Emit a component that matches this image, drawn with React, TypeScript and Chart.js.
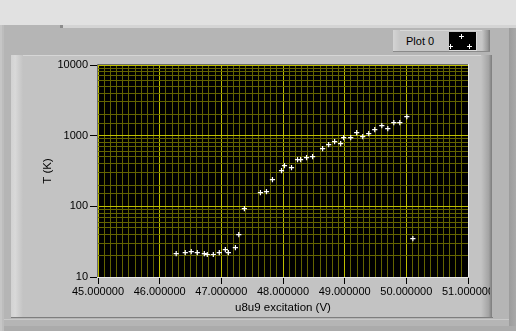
import React, { useEffect, useRef } from "react";
import { Chart, registerables } from "chart.js";

Chart.register(...registerables);

// ---- data ----
const excitationV: number[] = [
  46.268, 46.415, 46.512, 46.61, 46.724, 46.772, 46.87, 46.967, 47.065, 47.114,
  47.228, 47.283, 47.374, 47.634, 47.732, 47.829, 47.976, 48.024, 48.138, 48.236,
  48.285, 48.382, 48.48, 48.642, 48.74, 48.837, 48.935, 48.984, 49.098, 49.195,
  49.293, 49.39, 49.488, 49.602, 49.699, 49.797, 49.894, 50.008, 50.106,
];
const temperatureK: number[] = [
  21.4, 22.1, 22.9, 22.1, 21.4, 20.8, 20.8, 22.1, 24.4, 22.1,
  26.1, 39.8, 92.9, 156, 162, 239, 321, 377, 353, 459,
  459, 489, 506, 656, 748, 824, 772, 939, 939, 1105,
  970, 1070, 1219, 1388, 1259, 1531, 1531, 1862, 35.0,
];
const xMin = 45;
const xMax = 51;
const xMinorStep = 0.1;
const yMin = 10;
const yMax = 10000;
const xTitle = "u8u9 excitation (V)";
const yTitle = "T (K)";
const legendLabel = "Plot 0";

const MINOR = "rgb(100,100,0)";
const MAJOR = "rgb(190,190,0)";
const FONT = "'Liberation Sans', Arial, sans-serif";

const isMajorX = (v: number) => Math.abs(v - Math.round(v)) < 1e-6;
const isMajorY = (v: number) => {
  const l = Math.log10(v);
  return Math.abs(l - Math.round(l)) < 1e-6;
};

const plotFrame = {
  id: "plotFrame",
  beforeDraw(chart: any) {
    const { ctx, chartArea: a } = chart;
    ctx.save();
    ctx.fillStyle = "#000";
    ctx.fillRect(a.left, a.top, a.right - a.left, a.bottom - a.top);
    ctx.restore();
  },
  afterDraw(chart: any) {
    const { ctx, chartArea: a } = chart;
    const l = Math.round(a.left), r = Math.round(a.right), t = Math.round(a.top), b = Math.round(a.bottom);
    ctx.save();
    ctx.lineWidth = 1;
    ctx.strokeStyle = "#6a6a6a";
    ctx.beginPath();
    ctx.moveTo(l - 0.5, b);
    ctx.lineTo(l - 0.5, t - 0.5);
    ctx.lineTo(r, t - 0.5);
    ctx.stroke();
    ctx.strokeStyle = "#e8e8e8";
    ctx.beginPath();
    ctx.moveTo(r + 0.5, t - 1);
    ctx.lineTo(r + 0.5, b + 0.5);
    ctx.lineTo(l - 1, b + 0.5);
    ctx.stroke();
    ctx.restore();
  },
};

const abs = (l: number, t: number, w: number, h: number, bg: string, extra: any = {}) => ({
  position: "absolute" as const,
  left: l,
  top: t,
  width: w,
  height: h,
  background: bg,
  ...extra,
});

function Plus({ cx, cy }: { cx: number; cy: number }) {
  return (
    <>
      <div style={abs(cx, cy - 2, 1, 5, "#fff")} />
      <div style={abs(cx - 2, cy, 5, 1, "#fff")} />
    </>
  );
}

export default function App() {
  const ref = useRef<HTMLCanvasElement>(null);

  useEffect(() => {
    const canvas = ref.current!;
    const chart = new Chart(canvas, {
      type: "scatter",
      data: {
        datasets: [
          {
            label: legendLabel,
            data: excitationV.map((x, i) => ({ x, y: temperatureK[i] })),
            pointStyle: "cross",
            pointRadius: 2.6,
            pointHoverRadius: 2.6,
            borderColor: "#fff",
            backgroundColor: "#fff",
            borderWidth: 1.2,
            showLine: false,
          },
        ],
      },
      options: {
        animation: false,
        responsive: false,
        devicePixelRatio: 1,
        events: [],
        layout: { padding: { top: 65, right: 22, bottom: 16, left: 41 } },
        plugins: { legend: { display: false }, tooltip: { enabled: false } },
        scales: {
          x: {
            type: "linear",
            min: xMin,
            max: xMax,
            ticks: {
              stepSize: xMinorStep,
              autoSkip: false,
              maxRotation: 0,
              minRotation: 0,
              padding: 1,
              color: "#000",
              font: { family: FONT, size: 11 },
              callback: (v: any) => (isMajorX(Number(v)) ? Number(v).toFixed(6) : ""),
            },
            grid: {
              color: (c: any) => (c.tick && isMajorX(c.tick.value) ? MAJOR : MINOR),
              tickColor: (c: any) => (c.tick && isMajorX(c.tick.value) ? "#000" : "rgba(0,0,0,0)"),
              tickLength: 7,
              drawTicks: true,
              lineWidth: 1,
            },
            border: { display: false },
            title: {
              display: true,
              text: xTitle,
              color: "#000",
              padding: 0,
              font: { family: FONT, size: 11.5 },
            },
            afterFit(s: any) {
              s.height = 38;
              s.paddingLeft = 0;
              s.paddingRight = 0;
            },
          },
          y: {
            type: "logarithmic",
            min: yMin,
            max: yMax,
            ticks: {
              autoSkip: false,
              padding: 2,
              color: "#000",
              font: { family: FONT, size: 11 },
              callback: (v: any) => (isMajorY(Number(v)) ? String(Math.round(Number(v))) : ""),
            },
            grid: {
              color: (c: any) => (c.tick && isMajorY(c.tick.value) ? MAJOR : MINOR),
              tickColor: (c: any) => (c.tick && isMajorY(c.tick.value) ? "#000" : "rgba(0,0,0,0)"),
              tickLength: 8,
              drawTicks: true,
              lineWidth: 1,
            },
            border: { display: false },
            title: {
              display: true,
              text: yTitle,
              color: "#000",
              padding: 0,
              font: { family: FONT, size: 11.5 },
            },
            afterFit(s: any) {
              s.width = 57;
              s.paddingTop = 0;
              s.paddingBottom = 0;
            },
          },
        },
      },
      plugins: [plotFrame],
    } as any);
    return () => chart.destroy();
  }, []);

  return (
    <div style={{ position: "fixed", left: 0, top: 0, width: 516, height: 331, overflow: "hidden", background: "#b5b5b5", fontFamily: FONT }}>
      {/* outer frame */}
      <div style={abs(0, 0, 516, 25, "#e1e1e1")} />
      <div style={abs(60, 25, 3, 3, "#8c8c8c")} />
      <div style={abs(63, 25, 453, 3, "#d4d4d4")} />
      <div style={abs(0, 25, 2, 306, "#c6c6c6")} />
      <div style={abs(2, 25, 2, 306, "#bdbdbd")} />
      <div style={abs(509, 28, 7, 303, "linear-gradient(to right, #9c9c9c, #a9a9a9)")} />
      <div style={abs(4, 319, 505, 1, "#c9c9c9")} />
      <div style={abs(4, 326, 512, 5, "#ababab")} />
      {/* inner panel */}
      <div style={abs(11, 55, 481, 263, "#c3c3c3")} />
      <div style={abs(11, 55, 481, 1, "#d6d6d6")} />
      <div style={abs(11, 55, 12, 263, "linear-gradient(to right, #d2d2d2, #d9d9d9 35%, #c3c3c3)")} />
      <div style={abs(481, 55, 11, 263, "linear-gradient(to right, #c3c3c3, #a4a4a4 70%, #7c7c7c)")} />
      <div style={abs(11, 317, 482, 1, "#7e7e7e")} />
      {/* legend */}
      <div style={abs(393, 30, 97, 22, "#c6c6c6")} />
      <div style={abs(393, 30, 97, 1, "#d8d8d8")} />
      <div style={abs(393, 30, 7, 22, "linear-gradient(to right, #d4d4d4, #c6c6c6)")} />
      <div style={abs(482, 30, 8, 22, "linear-gradient(to right, #c6c6c6, #9a9a9a 70%, #7c7c7c)")} />
      <div style={abs(393, 51, 97, 1, "#8a8a8a")} />
      <div style={abs(406, 33, 40, 16, "transparent", { fontSize: 11, lineHeight: "16px", color: "#000", whiteSpace: "nowrap" })}>
        {legendLabel}
      </div>
      <div style={abs(449, 32, 28, 19, "#000", { overflow: "hidden", boxSizing: "border-box", borderRight: "1px solid #dcdcdc", borderBottom: "1px solid #dcdcdc" })}>
        <Plus cx={12} cy={4} />
        <Plus cx={1} cy={14} />
        <Plus cx={20} cy={14} />
      </div>
      <canvas
        ref={ref}
        width={490}
        height={331}
        style={{ position: "absolute", left: 0, top: 0, width: 490, height: 331 }}
      />
    </div>
  );
}
